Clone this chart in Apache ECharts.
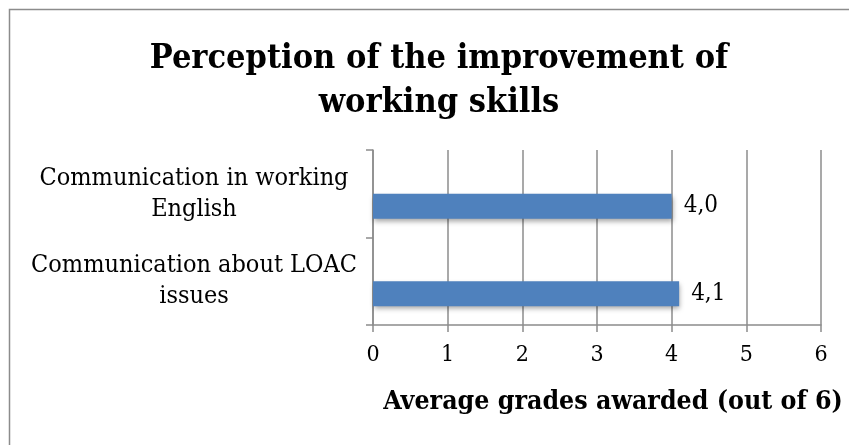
<!DOCTYPE html>
<html>
<head>
<meta charset="utf-8">
<script src="https://cdn.jsdelivr.net/npm/echarts@6/dist/echarts.min.js"></script>
<style>html,body{margin:0;padding:0;background:#fff}#c{width:849px;height:445px}</style>
</head>
<body>
<div id="c"></div>
<script>
const categories = ['Communication about LOAC\nissues', 'Communication in working\nEnglish'];
const values = [4.1, 4.0];
const xTicks = [0, 1, 2, 3, 4, 5, 6];
const titleText = 'Perception of the improvement of\nworking skills';
const xName = 'Average grades awarded (out of 6)';

const FONT = '"DejaVu Serif Condensed", "DejaVu Serif", serif';
const chart = echarts.init(document.getElementById('c'), null, {renderer: 'canvas'});
chart.setOption({
  backgroundColor: '#fff',
  animation: false,
  graphic: [{
    type: 'rect', shape: {x: 9.5, y: 9.5, width: 900, height: 600},
    style: {fill: 'none', stroke: '#8c8c8c', lineWidth: 1.5}, silent: true, z: -1
  }],
  title: {
    text: titleText, left: 434, top: 32, textAlign: 'center',
    textStyle: {fontFamily: FONT, fontWeight: 'bold', fontSize: 34, lineHeight: 44, color: '#000'}
  },
  grid: {left: 373, right: 28, top: 150, bottom: 120, containLabel: false},
  xAxis: {
    type: 'value', min: xTicks[0], max: xTicks[xTicks.length - 1], interval: 1,
    name: xName, nameLocation: 'middle', nameGap: 64,
    nameTextStyle: {fontFamily: FONT, fontWeight: 'bold', fontSize: 26.5, color: '#000', padding: [0, 0, 0, 32]},
    axisLine: {show: true, lineStyle: {color: '#8c8c8c', width: 1.5}},
    axisTick: {show: true, length: 7, inside: false, lineStyle: {color: '#8c8c8c', width: 1.5}},
    axisLabel: {fontFamily: FONT, fontSize: 23, color: '#000', margin: 19},
    splitLine: {show: true, lineStyle: {color: '#8c8c8c', width: 1.5}}
  },
  yAxis: {
    type: 'category', data: categories,
    axisLine: {show: true, lineStyle: {color: '#8c8c8c', width: 1.5}},
    axisTick: {show: true, length: 7, lineStyle: {color: '#8c8c8c', width: 1.5}},
    axisLabel: {fontFamily: FONT, fontSize: 25, color: '#000', align: 'center', margin: 179, lineHeight: 31},
    splitLine: {show: false}
  },
  series: [{
    type: 'bar', data: [null, null], barWidth: 25, barGap: '0%', silent: true
  }, {
    type: 'bar', data: values, barWidth: 25, barGap: '0%',
    itemStyle: {color: '#4F81BD', shadowBlur: 5, shadowOffsetY: 3, shadowOffsetX: 1, shadowColor: 'rgba(0,0,0,0.35)'},
    label: {
      show: true, position: 'right', distance: 12,
      fontFamily: FONT, fontSize: 24, color: '#000',
      formatter: p => p.value.toFixed(1).replace('.', ',')
    }
  }]
});
</script>
</body>
</html>
